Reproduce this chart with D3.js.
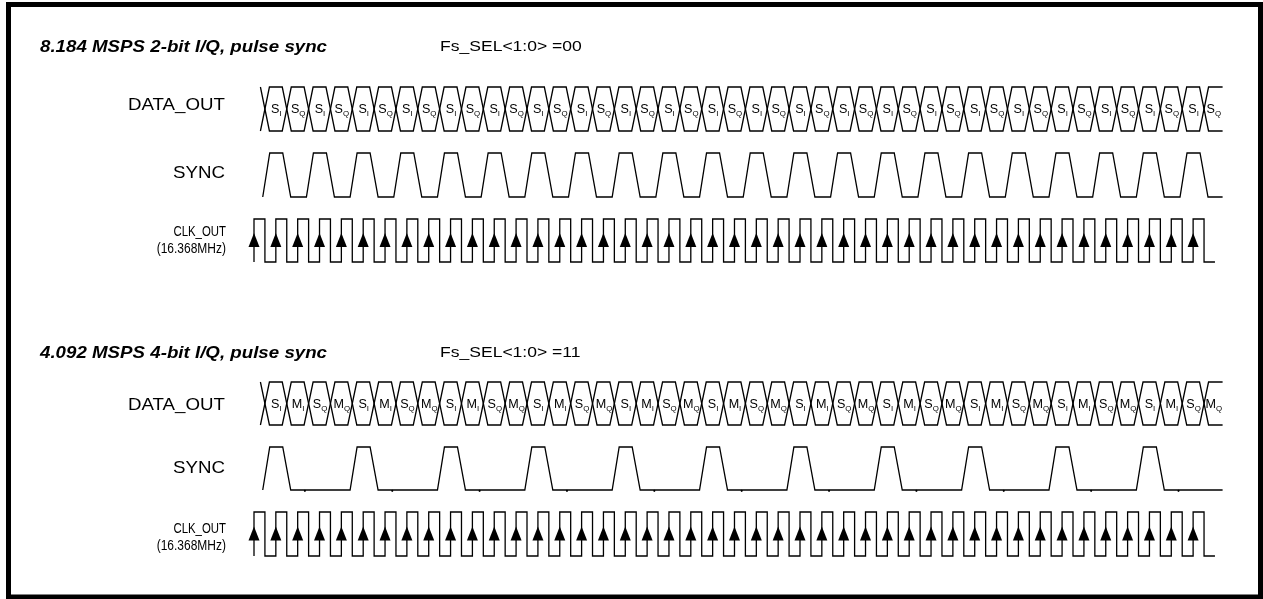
<!DOCTYPE html>
<html>
<head>
<meta charset="utf-8">
<script src="https://cdn.jsdelivr.net/npm/d3@7/dist/d3.min.js"></script>
<style>
  body { margin: 0; background: #fff; }
  svg { display: block; filter: grayscale(100%); }
  text { font-family: "Liberation Sans", Arial, sans-serif; fill: #000; }
</style>
</head>
<body>
<svg id="chart" width="1263" height="599"></svg>
<script>
// clock cycle indices (rising edges)
const clockEdges = [0,1,2,3,4,5,6,7,8,9,10,11,12,13,14,15,16,17,18,19,20,21,
                    22,23,24,25,26,27,28,29,30,31,32,33,34,35,36,37,38,39,40,41,42,43];

// data cells, one per clock cycle: letter + subscript
const topCells = [
  "SI","SQ","SI","SQ","SI","SQ","SI","SQ","SI","SQ","SI","SQ","SI","SQ","SI","SQ",
  "SI","SQ","SI","SQ","SI","SQ","SI","SQ","SI","SQ","SI","SQ","SI","SQ","SI","SQ",
  "SI","SQ","SI","SQ","SI","SQ","SI","SQ","SI","SQ","SI","SQ"];
const bottomCells = [
  "SI","MI","SQ","MQ","SI","MI","SQ","MQ","SI","MI","SQ","MQ","SI","MI","SQ","MQ",
  "SI","MI","SQ","MQ","SI","MI","SQ","MQ","SI","MI","SQ","MQ","SI","MI","SQ","MQ",
  "SI","MI","SQ","MQ","SI","MI","SQ","MQ","SI","MI","SQ","MQ"];

// cycles where a sync pulse starts
const topSyncPulses = [0,2,4,6,8,10,12,14,16,18,20,22,24,26,28,30,32,34,36,38,40,42];
const bottomSyncPulses = [0,4,8,12,16,20,24,28,32,36,40];
const bottomSyncMarks = [2,6,10,14,18,22,26,30,34,38,42];

const titles = ["8.184 MSPS 2-bit I/Q, pulse sync", "4.092 MSPS 4-bit I/Q, pulse sync"];
const fsSel = ["Fs_SEL<1:0> =00", "Fs_SEL<1:0> =11"];
const signalNames = ["DATA_OUT", "SYNC", "CLK_OUT", "(16.368MHz)"];

const svg = d3.select("#chart");
const stretch = 1.17;

// frame
svg.append("rect")
  .attr("x", 8.5).attr("y", 4.5)
  .attr("width", 1252).attr("height", 592.5)
  .attr("fill", "none").attr("stroke", "#000").attr("stroke-width", 5);

const x = d3.scaleLinear().domain([0, 44]).range([254, 254 + 44 * 21.84]);

const sections = [
  { title: titles[0], fs: fsSel[0], cells: topCells, pulses: topSyncPulses, marks: [],
    titleY: 52, dataY: [87, 131], syncY: [153, 197], clkY: [219, 262],
    labelY: [110, 178, 236, 253] },
  { title: titles[1], fs: fsSel[1], cells: bottomCells, pulses: bottomSyncPulses, marks: bottomSyncMarks,
    titleY: 358, dataY: [382, 425], syncY: [447, 490], clkY: [512, 556],
    labelY: [410, 473, 533, 550] }
];

function stext(g, str, tx, ty, size, anchor, sx, weight, style) {
  return g.append("text")
    .attr("transform", `translate(${tx},${ty}) scale(${sx},1)`)
    .attr("text-anchor", anchor)
    .attr("font-size", size)
    .attr("font-weight", weight || "normal")
    .attr("font-style", style || "normal")
    .text(str);
}

const line = d3.line();

sections.forEach(s => {
  const g = svg.append("g");

  stext(g, s.title, 40, s.titleY, 16, "start", stretch, "bold", "italic");
  stext(g, s.fs, 440, s.titleY - 1, 15, "start", stretch);

  stext(g, signalNames[0], 225, s.labelY[0], 16, "end", stretch);
  stext(g, signalNames[1], 225, s.labelY[1], 16, "end", stretch);
  stext(g, signalNames[2], 226, s.labelY[2], 15, "end", 0.76);
  stext(g, signalNames[3], 226, s.labelY[3], 15, "end", 0.8);

  // DATA_OUT bus
  const [yT, yB] = s.dataY;
  const d = 4.5;
  const bounds = s.cells.map((c, i) => x(i + 0.5));
  const endX = x(44.35);
  const a = [], b = [];
  bounds.forEach((bx, i) => {
    const up = i % 2 === 0;
    a.push([bx - d, up ? yB : yT], [bx + d, up ? yT : yB]);
    b.push([bx - d, up ? yT : yB], [bx + d, up ? yB : yT]);
  });
  const lastUp = (bounds.length - 1) % 2 === 0;
  a.push([endX, lastUp ? yT : yB]);
  b.push([endX, lastUp ? yB : yT]);
  [a, b].forEach(pts => g.append("path").attr("d", line(pts))
    .attr("fill", "none").attr("stroke", "#000").attr("stroke-width", 1.3));

  g.selectAll("text.cell").data(s.cells).enter().append("text")
    .attr("class", "cell")
    .attr("transform", (c, i) => {
      const cx = (bounds[i] + (i + 1 < bounds.length ? bounds[i + 1] : endX)) / 2 + 0.5;
      return `translate(${cx},${(yT + yB) / 2 + 4}) scale(1.05,1)`;
    })
    .attr("text-anchor", "middle")
    .attr("font-size", 12)
    .each(function(c) {
      const t = d3.select(this);
      t.append("tspan").text(c[0]);
      t.append("tspan").attr("font-size", 7.5).attr("dy", 3).text(c[1]);
    });

  // SYNC
  const [sH, sL] = s.syncY;
  const r = 7, top = 13, f = 8;
  const sp = [];
  s.pulses.forEach(p => {
    const xs = x(p + 0.4);
    sp.push([xs, sL], [xs + r, sH], [xs + r + top, sH], [xs + r + top + f, sL]);
  });
  sp.push([x(44.35), sL]);
  g.append("path").attr("d", line(sp))
    .attr("fill", "none").attr("stroke", "#000").attr("stroke-width", 1.3);
  g.selectAll("circle.mark").data(s.marks).enter().append("circle")
    .attr("cx", m => x(m + 0.33)).attr("cy", sL + 0.8).attr("r", 1.1).attr("fill", "#000");

  // CLK_OUT
  const [cH, cL] = s.clkY;
  const cp = [];
  clockEdges.forEach(k => {
    cp.push([x(k), cL], [x(k), cH], [x(k + 0.5), cH], [x(k + 0.5), cL]);
  });
  cp.push([x(44), cL]);
  g.append("path").attr("d", line(cp))
    .attr("fill", "none").attr("stroke", "#000").attr("stroke-width", 1.3);

  const cm = (cH + cL) / 2;
  g.selectAll("path.arrow").data(clockEdges).enter().append("path")
    .attr("class", "arrow")
    .attr("d", k => `M${x(k) - 5.5},${cm + 6.5} L${x(k)},${cm - 7.5} L${x(k) + 5.5},${cm + 6.5} Z`)
    .attr("fill", "#000");
});
</script>
</body>
</html>
